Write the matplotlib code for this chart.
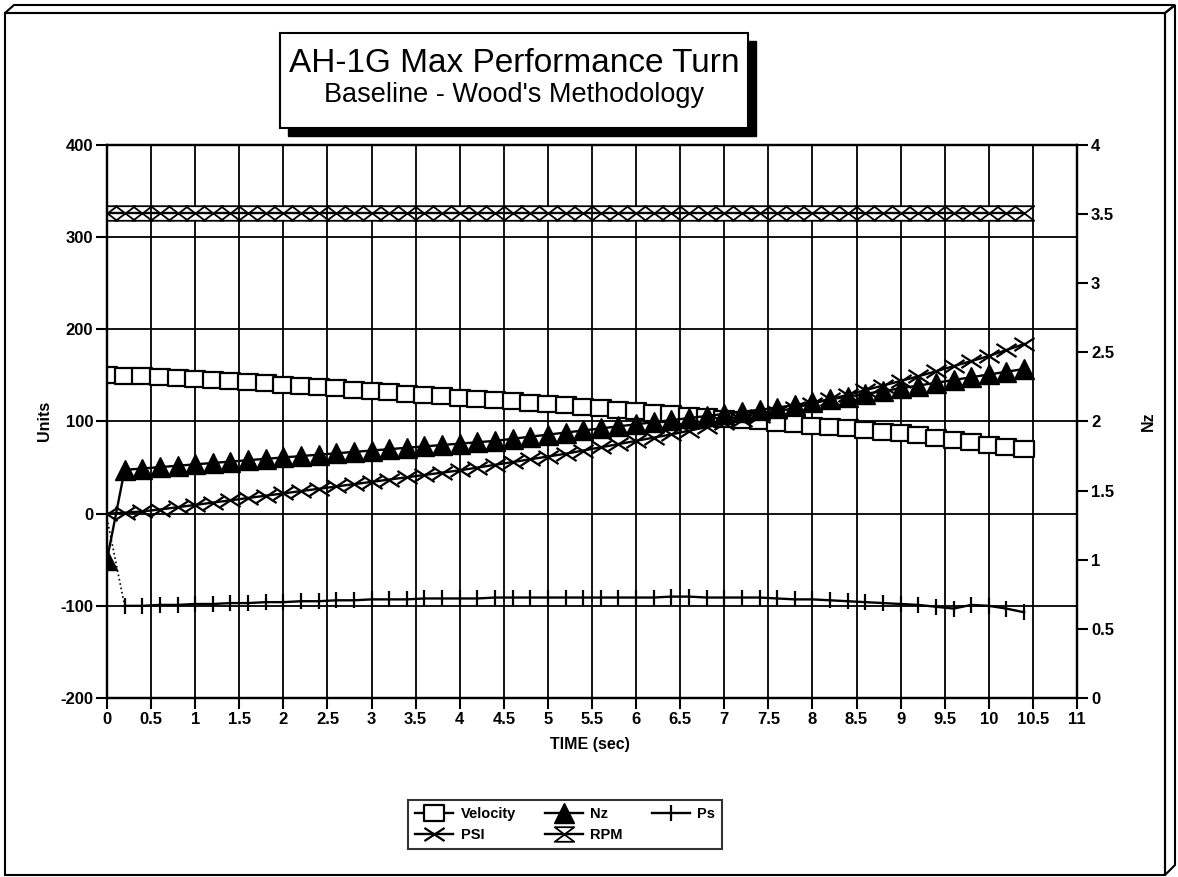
import matplotlib
matplotlib.use('Agg')
import matplotlib.pyplot as plt
from matplotlib.path import Path
from matplotlib.patches import Rectangle, Polygon

plt.rcParams['font.family'] = ['Liberation Sans', 'DejaVu Sans']
plt.rcParams['axes.unicode_minus'] = False

# ---------------- data ----------------
time_s = [0.0, 0.2, 0.4, 0.6, 0.8, 1.0, 1.2, 1.4, 1.6, 1.8, 2.0, 2.2, 2.4, 2.6, 2.8,
          3.0, 3.2, 3.4, 3.6, 3.8, 4.0, 4.2, 4.4, 4.6, 4.8, 5.0, 5.2, 5.4, 5.6, 5.8,
          6.0, 6.2, 6.4, 6.6, 6.8, 7.0, 7.2, 7.4, 7.6, 7.8, 8.0, 8.2, 8.4, 8.6, 8.8,
          9.0, 9.2, 9.4, 9.6, 9.8, 10.0, 10.2, 10.4]

velocity = [150, 149.5, 149, 148, 147, 146, 145, 144, 143, 141.5, 140, 138.5, 137, 136, 134.5,
            133, 131.5, 130, 129, 127.5, 126, 124.5, 123, 122, 120.5, 119, 117.5, 116, 114.5, 113,
            111, 109.5, 108, 106.5, 105, 103, 101.5, 100, 98.5, 97, 95.5, 94, 92.5, 91, 89,
            87, 85, 82.5, 80, 77.5, 75, 72.5, 70]

psi = [0, 1, 2.5, 4.5, 7, 9.5, 12, 14.5, 17, 19.5, 22, 24.5, 27, 29.5, 32,
       34.5, 37, 39.5, 42, 44.5, 47, 50, 53, 56, 59, 62, 65, 68.5, 72, 75.5,
       79, 82.5, 86, 90, 94, 98, 102, 106, 110.5, 115, 119.5, 124, 129, 134, 139,
       144, 149, 154.5, 160, 165.5, 171, 177.5, 184]

nz = [1.0, 1.65, 1.66, 1.67, 1.68, 1.69, 1.70, 1.71, 1.72, 1.73, 1.74, 1.75, 1.76, 1.77, 1.78,
      1.79, 1.80, 1.81, 1.82, 1.83, 1.84, 1.85, 1.86, 1.875, 1.89, 1.905, 1.92, 1.935, 1.95, 1.965,
      1.98, 1.995, 2.01, 2.025, 2.04, 2.055, 2.07, 2.085, 2.10, 2.12, 2.14, 2.16, 2.18, 2.20, 2.22,
      2.24, 2.26, 2.28, 2.30, 2.32, 2.34, 2.36, 2.38]

ps = [-5, -100, -100, -99, -99, -98, -98, -97, -97, -96, -96, -95, -95, -94, -94,
      -93, -93, -93, -92, -92, -92, -92, -91, -91, -91, -91, -91, -91, -91, -91,
      -91, -91, -90, -90, -91, -91, -91, -91, -92, -93, -93, -94, -95, -96, -97,
      -98, -99, -101, -103, -99, -100, -103, -107]

rpm = [326, 326, 326, 326, 326, 326, 326, 326, 326, 326, 326, 326, 326, 326, 326,
       326, 326, 326, 326, 326, 326, 326, 326, 326, 326, 326, 326, 326, 326, 326,
       326, 326, 326, 326, 326, 326, 326, 326, 326, 326, 326, 326, 326, 326, 326,
       326, 326, 326, 326, 326, 326, 326, 326]

title_main = 'AH-1G Max Performance Turn'
title_sub = "Baseline - Wood's Methodology"
x_ticks = [0, 0.5, 1, 1.5, 2, 2.5, 3, 3.5, 4, 4.5, 5, 5.5, 6, 6.5, 7, 7.5, 8, 8.5, 9, 9.5, 10, 10.5, 11]
x_ticklabels = ['0', '0.5', '1', '1.5', '2', '2.5', '3', '3.5', '4', '4.5', '5', '5.5',
                '6', '6.5', '7', '7.5', '8', '8.5', '9', '9.5', '10', '10.5', '11']
y_ticks = [-200, -100, 0, 100, 200, 300, 400]
y_ticklabels = ['-200', '-100', '0', '100', '200', '300', '400']
y2_ticks = [0, 0.5, 1, 1.5, 2, 2.5, 3, 3.5, 4]
y2_ticklabels = ['0', '0.5', '1', '1.5', '2', '2.5', '3', '3.5', '4']

# ---------------- markers ----------------
box_marker = Path([(-1, -0.75), (1, -0.75), (1, 0.75), (-1, 0.75), (-1, -0.75)],
                  [Path.MOVETO, Path.LINETO, Path.LINETO, Path.LINETO, Path.CLOSEPOLY])
x_marker = Path([(-1, -0.65), (1, 0.65), (-1, 0.65), (1, -0.65)],
                [Path.MOVETO, Path.LINETO, Path.MOVETO, Path.LINETO])
hour_marker = Path([(-1, 0.75), (1, 0.75), (-1, -0.75), (1, -0.75), (-1, 0.75)],
                   [Path.MOVETO, Path.LINETO, Path.LINETO, Path.LINETO, Path.CLOSEPOLY])

W, H = 1178, 877
fig = plt.figure(figsize=(W / 100, H / 100), dpi=100)

# background overlay in pixel coordinates
bg = fig.add_axes([0, 0, 1, 1], zorder=0)
bg.set_xlim(0, W)
bg.set_ylim(H, 0)
bg.axis('off')

# 3-D frame
bg.add_patch(Rectangle((5, 13), 1160, 862, fill=False, edgecolor='black', lw=1.5))
bg.add_patch(Polygon([(5, 13), (14, 5), (1175, 5), (1165, 13)], closed=True,
                     fill=False, edgecolor='black', lw=1.5))
bg.add_patch(Polygon([(1165, 13), (1175, 5), (1175, 865), (1165, 875)], closed=True,
                     fill=False, edgecolor='black', lw=1.5))

# title box with shadow
bg.add_patch(Rectangle((288, 41), 468, 95, facecolor='black', edgecolor='black'))
bg.add_patch(Rectangle((280, 33), 468, 95, facecolor='white', edgecolor='black', lw=1.5))
bg.text(514, 72, title_main, ha='center', va='baseline', fontsize=24)
bg.text(514, 102, title_sub, ha='center', va='baseline', fontsize=19.5)

# axis labels
bg.text(45, 421, 'Units', rotation=90, ha='center', va='center', fontsize=11.5, fontweight='bold')
bg.text(1148, 421, 'Nz', rotation=90, ha='center', va='center', fontsize=11.5, fontweight='bold')
bg.text(590, 744, 'TIME (sec)', ha='center', va='center', fontsize=11.5, fontweight='bold')

# ---------------- main axes ----------------
ax = fig.add_axes([107 / W, 1 - 698 / H, 970 / W, 553 / H], zorder=2)
ax.patch.set_visible(False)
ax.set_xlim(0, 11)
ax.set_ylim(-200, 400)
ax.set_xticks(x_ticks)
ax.set_xticklabels(x_ticklabels)
ax.set_yticks(y_ticks)
ax.set_yticklabels(y_ticklabels)
ax.grid(True, color='black', lw=1.3)
ax.set_axisbelow(True)
for s in ax.spines.values():
    s.set_linewidth(1.6)
ax.tick_params(axis='both', direction='out', length=8, width=1.5, labelsize=12, pad=2)
for lab in ax.get_xticklabels() + ax.get_yticklabels():
    lab.set_fontweight('bold')

ax2 = ax.twinx()
ax2.set_ylim(0, 4)
ax2.set_yticks(y2_ticks)
ax2.set_yticklabels(y2_ticklabels)
ax2.tick_params(axis='y', direction='out', length=8, width=1.5, labelsize=12, pad=2)
for lab in ax2.get_yticklabels():
    lab.set_fontweight('bold')
for s in ax2.spines.values():
    s.set_linewidth(1.6)

lw = 1.7
h_rpm, = ax.plot(time_s, rpm, color='black', lw=lw, marker=hour_marker, markersize=14,
                 markerfacecolor='white', markeredgecolor='black', markeredgewidth=1.3, label='RPM')
h_vel, = ax.plot(time_s, velocity, color='black', lw=lw, marker=box_marker, markersize=15,
                 markerfacecolor='white', markeredgecolor='black', markeredgewidth=1.6, label='Velocity')
h_psi, = ax.plot(time_s, psi, color='black', lw=lw, marker=x_marker, markersize=14.5,
                 markeredgecolor='black', markeredgewidth=1.6, label='PSI')
ax.plot(time_s[:2], ps[:2], color='black', lw=1.2, ls=':')
h_ps, = ax.plot(time_s[1:], ps[1:], color='black', lw=lw, marker='|', markersize=11,
                markeredgewidth=1.6, label='Ps')
h_nz, = ax2.plot(time_s, nz, color='black', lw=lw, marker='^', markersize=15,
                 markerfacecolor='black', markeredgecolor='black', label='Nz')

leg = fig.legend([h_vel, h_psi, h_nz, h_rpm, h_ps],
                 ['Velocity', 'PSI', 'Nz', 'RPM', 'Ps'],
                 loc='upper left', bbox_to_anchor=(408 / W, 1 - 800 / H),
                 bbox_transform=fig.transFigure, ncol=3, frameon=True, fancybox=False,
                 edgecolor='black', borderaxespad=0, handlelength=2.6, columnspacing=2.0,
                 handletextpad=0.5, labelspacing=0.45, borderpad=0.5,
                 prop={'weight': 'bold', 'size': 10.5})
leg.get_frame().set_linewidth(1.5)

fig.savefig('out.png', dpi=100)
